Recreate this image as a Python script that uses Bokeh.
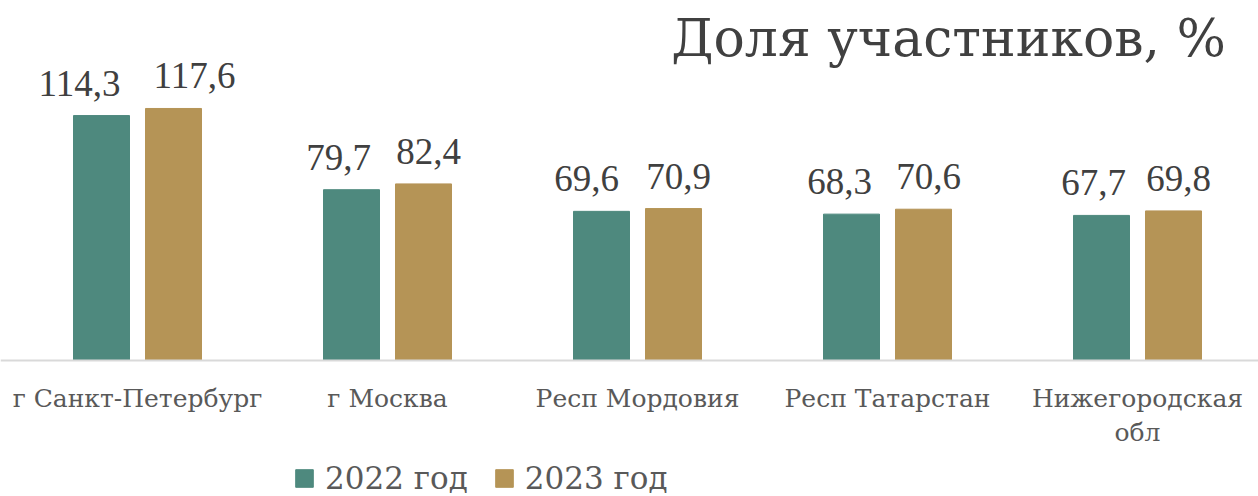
from bokeh.plotting import figure
from bokeh.models import (ColumnDataSource, Range1d, FixedTicker, LabelSet, Label,
                          Legend, LegendItem)
from bokeh.embed import file_html
from bokeh.resources import INLINE

# ---- data ----
regions = ["г Санкт-Петербург", "г Москва", "Респ Мордовия", "Респ Татарстан",
           "Нижегородская\nобл"]
years = ["2022 год", "2023 год"]
v2022 = [114.3, 79.7, 69.6, 68.3, 67.7]
v2023 = [117.6, 82.4, 70.9, 70.6, 69.8]
title_text = "Доля  участников, %"

# ---- styles ----
C2022 = "#4E897E"
C2023 = "#B59456"
FONT = "DejaVu Serif"
FONT_NUM = "serif"
TXT = "#404040"
OFF = 0.144
BW = 0.224
NUDGE_2022 = [-22, -13, -15, -12, -8]   # label nudges (px) as in reference
NUDGE_2023 = [21, 5, 5, 5, 5]

idx = list(range(len(regions)))
def fmt(v):
    return f"{v:.1f}".replace(".", ",")

s1 = ColumnDataSource(dict(x=[i - OFF for i in idx], top=v2022,
                           lab=[fmt(v) for v in v2022], dx=NUDGE_2022))
s2 = ColumnDataSource(dict(x=[i + OFF for i in idx], top=v2023,
                           lab=[fmt(v) for v in v2023], dx=NUDGE_2023))

PXU = 2.143  # px per unit
p = figure(frame_width=1258, frame_height=496, output_backend="svg", toolbar_location=None,
           x_range=Range1d(-0.548, 4.484), y_range=Range1d(-136 / PXU, 360 / PXU),
           min_border_left=0, min_border_right=0, min_border_top=0, min_border_bottom=0)
p.outline_line_color = None
p.xgrid.visible = False
p.ygrid.visible = False
p.yaxis.visible = False
p.background_fill_color = "white"

r1 = p.vbar(x="x", top="top", bottom=0, width=BW, source=s1, color=C2022)
r2 = p.vbar(x="x", top="top", bottom=0, width=BW, source=s2, color=C2023)

for s in (s1, s2):
    p.add_layout(LabelSet(x="x", y="top", text="lab", source=s, text_align="center",
                          text_baseline="alphabetic", y_offset=20, x_offset="dx",
                          text_font=FONT_NUM, text_font_size="37px", text_color=TXT))

ax = p.xaxis[0]
ax.fixed_location = 0
ax.ticker = FixedTicker(ticks=idx)
ax.major_label_overrides = {i: r for i, r in zip(idx, regions)}
ax.major_label_text_font = FONT
ax.major_label_text_font_size = "25px"
ax.major_label_text_color = "#595959"
ax.major_label_standoff = 17
ax.axis_line_color = "#D9D9D9"
ax.axis_line_width = 2
ax.major_tick_line_color = None
ax.minor_tick_line_color = None

p.add_layout(Label(x=4.42, y=150.5, text=title_text, text_align="right",
                   text_baseline="alphabetic", text_font=FONT, text_font_size="52px",
                   text_color=TXT))

legend = Legend(items=[LegendItem(label=years[0], renderers=[r1]),
                       LegendItem(label=years[1], renderers=[r2])],
                orientation="horizontal", location=(293, 0),
                border_line_color=None, background_fill_alpha=0,
                label_text_font=FONT, label_text_font_size="31px", label_text_color="#595959",
                glyph_width=22, glyph_height=22, label_standoff=10, spacing=25,
                padding=0, margin=0)
p.add_layout(legend, "center")

open("out.html", "w").write(file_html(p, INLINE))
